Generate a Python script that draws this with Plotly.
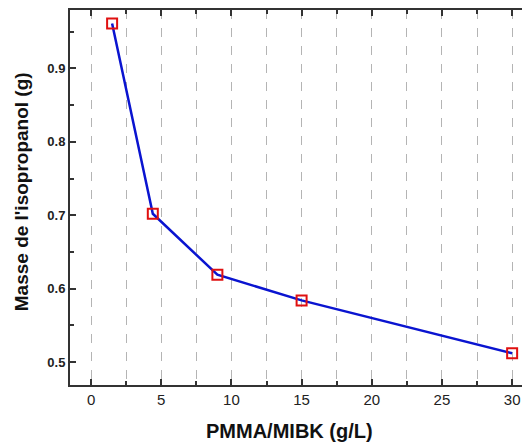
import plotly.graph_objects as go

x_conc = [1.5, 4.4, 9.0, 15.0, 30.0]
y_mass = [0.961, 0.702, 0.619, 0.584, 0.512]
x_ticks = [0, 5, 10, 15, 20, 25, 30]
y_ticks = [0.5, 0.6, 0.7, 0.8, 0.9]
x_title = "PMMA/MIBK (g/L)"
y_title = "Masse de l'isopropanol (g)"

fig = go.Figure()
fig.add_trace(go.Scatter(
    x=x_conc, y=y_mass, mode="lines+markers",
    line=dict(color="#0a14d0", width=2.5),
    marker=dict(symbol="square-open", size=10, color="#e01010",
                line=dict(color="#e01010", width=2)),
    showlegend=False,
))

axis_common = dict(
    showline=True, linecolor="#333333", linewidth=2, mirror="allticks",
    ticks="inside", tickcolor="#333333", tickwidth=2, zeroline=False,
)

fig.update_xaxes(
    range=[-1.5, 31.13], tickvals=x_ticks, ticklen=6,
    showgrid=True, gridcolor="#b4b4b4", griddash="dash", gridwidth=1,
    minor=dict(dtick=2.5, tick0=0, ticks="inside", ticklen=4, tickcolor="#333333",
               showgrid=True, gridcolor="#b4b4b4", griddash="dash", gridwidth=1),
    tickfont=dict(family="Liberation Sans, Arial", size=15, color="#222222"),
    **axis_common,
)
fig.update_yaxes(
    range=[0.4688, 0.9795], tickvals=y_ticks, ticktext=["<b>%.1f</b>" % v for v in y_ticks],
    ticklen=6, showgrid=False,
    minor=dict(dtick=0.05, tick0=0.5, ticks="inside", ticklen=4, tickcolor="#333333", showgrid=False),
    tickfont=dict(family="Liberation Sans, Arial", size=13, color="#222222"),
    **axis_common,
)

fig.add_annotation(text="<b>%s</b>" % x_title, xref="paper", yref="paper",
                   x=0.48, y=-0.122, xanchor="center", yanchor="middle", showarrow=False,
                   font=dict(family="Liberation Sans, Arial", size=20, color="#111111"))
fig.add_annotation(text="<b>%s</b>" % y_title, xref="paper", yref="paper",
                   x=-0.1065, y=0.5146, xanchor="center", yanchor="middle", showarrow=False,
                   textangle=-90,
                   font=dict(family="Liberation Sans, Arial", size=19, color="#111111"))

fig.update_layout(
    width=522, height=436,
    margin=dict(l=62, r=0, t=0, b=59),
    paper_bgcolor="white", plot_bgcolor="white",
)

fig.write_html("out.html")
